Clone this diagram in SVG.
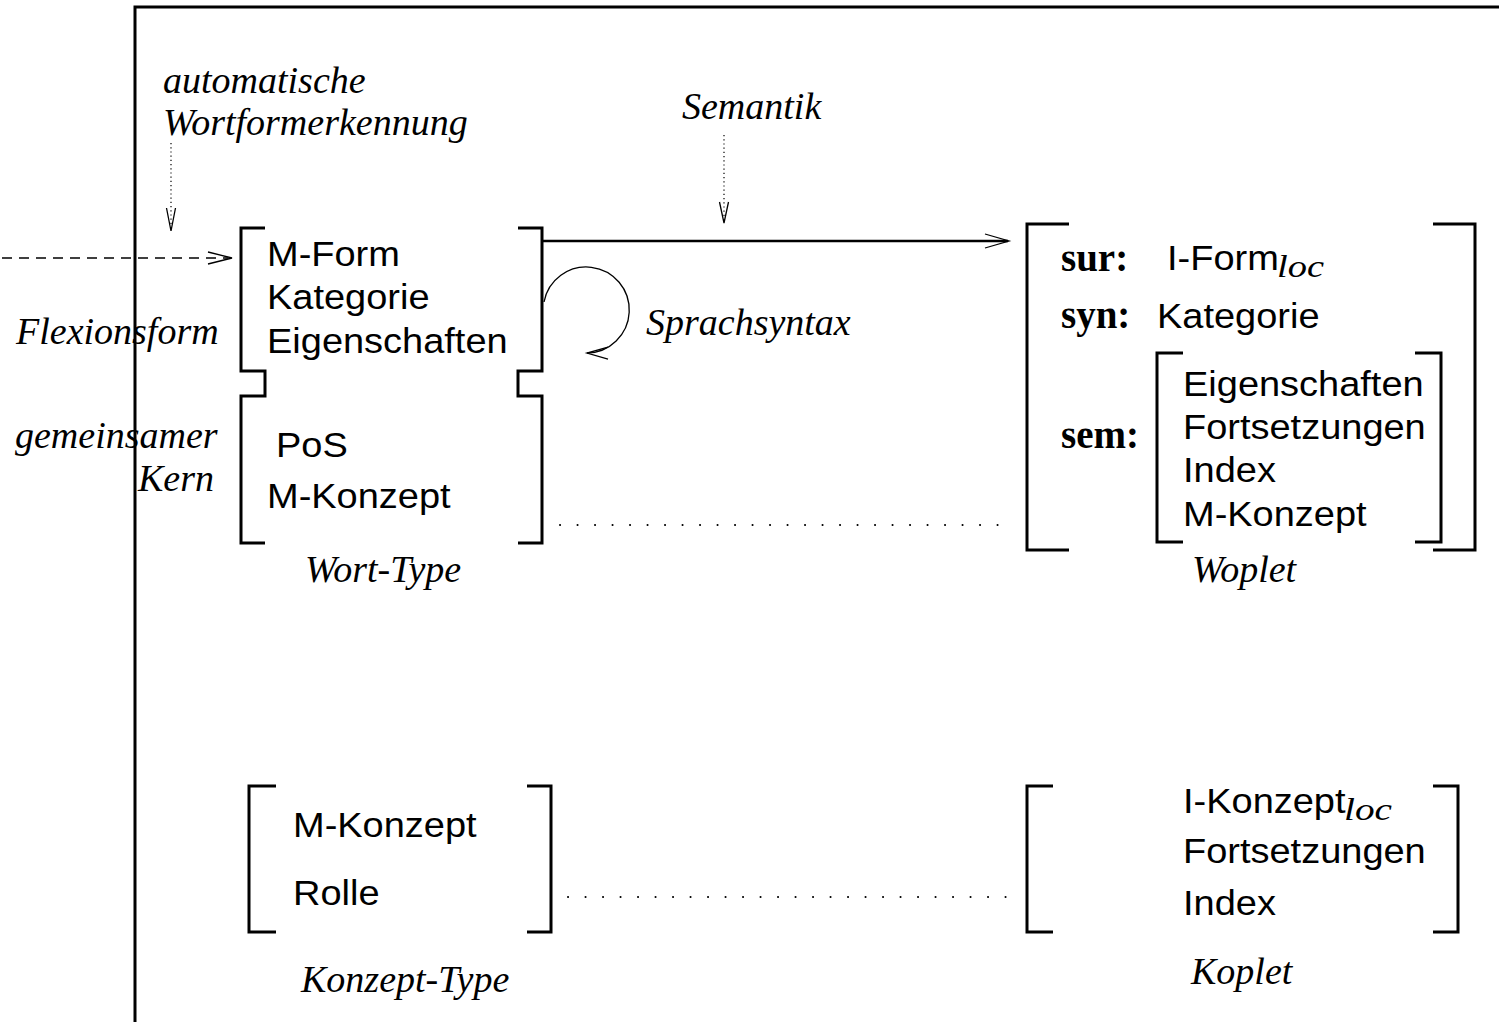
<svg xmlns="http://www.w3.org/2000/svg" width="1499" height="1022" viewBox="0 0 1499 1022">
<style>
  .br{fill:none;stroke:#000;stroke-width:3;stroke-linejoin:miter;stroke-linecap:butt}
  .sans{font-family:"Liberation Sans",Arial,sans-serif;font-size:35.5px;fill:#000}
  .it{font-family:"Liberation Serif","Times New Roman",serif;font-style:italic;font-size:38px;fill:#000}
  .bold{font-family:"Liberation Serif","Times New Roman",serif;font-weight:bold;font-size:39px;fill:#000}
  .sub{font-family:"Liberation Serif","Times New Roman",serif;font-style:italic;font-size:31px;fill:#000}
  .thin{fill:none;stroke:#000;stroke-width:1.3}
  .dot{fill:none;stroke:#000;stroke-width:1.2;stroke-dasharray:1.2 3}
  .far{fill:none;stroke:#000;stroke-width:2;stroke-linecap:round;stroke-dasharray:0.1 17.4}
</style>
<rect width="1499" height="1022" fill="#fff"/>

<g id="frame">
  <path class="br" d="M1499,7 H135 V1022"/>
</g>

<g id="word-type">
  <path class="br" d="M265,228 H241 V371 H265 V396 H241 V543 H265"/>
  <path class="br" d="M518,228 H542 V371 H518 V396 H542 V543 H518"/>
  <text class="sans" transform="translate(267 266) scale(1.07 1)">M-Form</text>
  <text class="sans" transform="translate(267 309) scale(1.07 1)">Kategorie</text>
  <text class="sans" transform="translate(267 353) scale(1.07 1)">Eigenschaften</text>
  <text class="sans" transform="translate(276 457) scale(1.07 1)">PoS</text>
  <text class="sans" transform="translate(267 508) scale(1.07 1)">M-Konzept</text>
  <text class="it" x="305" y="582">Wort-Type</text>
</g>

<g id="woplet">
  <path class="br" d="M1069,224 H1027 V550 H1069"/>
  <path class="br" d="M1433,224 H1475 V550 H1433"/>
  <path class="br" d="M1183,353 H1157 V542 H1183"/>
  <path class="br" d="M1415,353 H1441 V542 H1415"/>
  <text class="bold" x="1061" y="271">sur:</text>
  <text class="bold" x="1061" y="328">syn:</text>
  <text class="bold" x="1061" y="448">sem:</text>
  <text class="sans" transform="translate(1167 270) scale(1.07 1)">I-Form</text>
  <text class="sub" x="1277" y="277" textLength="47" lengthAdjust="spacingAndGlyphs">loc</text>
  <text class="sans" transform="translate(1157 328) scale(1.07 1)">Kategorie</text>
  <text class="sans" transform="translate(1183 396) scale(1.07 1)">Eigenschaften</text>
  <text class="sans" transform="translate(1183 439) scale(1.07 1)">Fortsetzungen</text>
  <text class="sans" transform="translate(1183 482) scale(1.07 1)">Index</text>
  <text class="sans" transform="translate(1183 526) scale(1.07 1)">M-Konzept</text>
  <text class="it" x="1192" y="582">Woplet</text>
</g>

<g id="konzept-type">
  <path class="br" d="M276,786 H249 V932 H276"/>
  <path class="br" d="M527,786 H551 V932 H527"/>
  <text class="sans" transform="translate(293 837) scale(1.07 1)">M-Konzept</text>
  <text class="sans" transform="translate(293 905) scale(1.07 1)">Rolle</text>
  <text class="it" x="301" y="992">Konzept-Type</text>
</g>

<g id="koplet">
  <path class="br" d="M1053,786 H1027 V932 H1053"/>
  <path class="br" d="M1433,786 H1458 V932 H1433"/>
  <text class="sans" transform="translate(1183 813) scale(1.07 1)">I-Konzept</text>
  <text class="sub" x="1344" y="820" textLength="48" lengthAdjust="spacingAndGlyphs">loc</text>
  <text class="sans" transform="translate(1183 863) scale(1.07 1)">Fortsetzungen</text>
  <text class="sans" transform="translate(1183 915) scale(1.07 1)">Index</text>
  <text class="it" x="1191" y="984">Koplet</text>
</g>

<g id="labels">
  <text class="it" x="163" y="93">automatische</text>
  <text class="it" x="163" y="135">Wortformerkennung</text>
  <text class="it" x="682" y="119">Semantik</text>
  <text class="it" x="646" y="335">Sprachsyntax</text>
  <text class="it" x="16" y="344">Flexionsform</text>
  <text class="it" x="15" y="448">gemeinsamer</text>
  <text class="it" x="138" y="491">Kern</text>
</g>

<g id="connectors">
  <line x1="543" y1="241" x2="1008" y2="241" stroke="#000" stroke-width="2.5"/>
  <path class="thin" d="M985,234 L1009,241 L985,248"/>
  <line x1="2" y1="258" x2="228" y2="258" stroke="#000" stroke-width="1.3" stroke-dasharray="10 7"/>
  <path class="thin" d="M208,252 L232,258 L208,264"/>
  <line class="dot" x1="171" y1="143" x2="171" y2="228"/>
  <path class="thin" d="M166.5,208 L171,231 L175.5,208"/>
  <line class="dot" x1="724" y1="135" x2="724" y2="220"/>
  <path class="thin" d="M719.5,202 L724,223 L728.5,202"/>
  <path class="thin" d="M544,302 A43,43 0 1 1 587,353"/>
  <path class="thin" d="M608,347 L587,353 L608,359"/>
  <line class="far" x1="560" y1="525" x2="998" y2="525"/>
  <line class="far" x1="568" y1="897" x2="1006" y2="897"/>
</g>
</svg>
